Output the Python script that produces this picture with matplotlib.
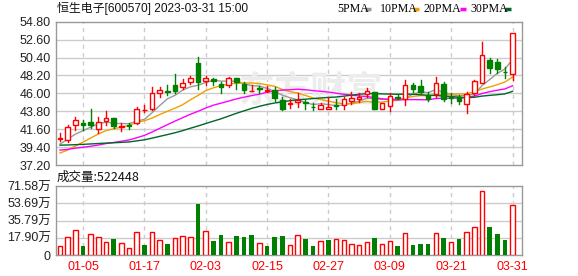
import numpy as np
import pandas as pd
import matplotlib
matplotlib.use("Agg")
import matplotlib.pyplot as plt
from matplotlib.patches import Rectangle
from matplotlib.lines import Line2D

W, H = 578, 276

# trading days 2022-12-30 .. 2023-03-31
dates = ["12-30", "01-03", "01-04", "01-05", "01-06", "01-09", "01-10", "01-11", "01-12", "01-13",
         "01-16", "01-17", "01-18", "01-19", "01-20", "01-30", "01-31", "02-01", "02-02", "02-03",
         "02-06", "02-07", "02-08", "02-09", "02-10", "02-13", "02-14", "02-15", "02-16", "02-17",
         "02-20", "02-21", "02-22", "02-23", "02-24", "02-27", "02-28", "03-01", "03-02", "03-03",
         "03-06", "03-07", "03-08", "03-09", "03-10", "03-13", "03-14", "03-15", "03-16", "03-17",
         "03-20", "03-21", "03-22", "03-23", "03-24", "03-27", "03-28", "03-29", "03-30", "03-31"]

opens = [40.35, 40.27, 42.15, 42.32, 42.48, 41.66, 42.64, 42.93, 41.85, 42.12,
         42.40, 43.90, 44.04, 46.08, 46.33, 47.03, 46.82, 47.39, 49.76, 47.52,
         47.72, 47.15, 47.03, 47.84, 47.11, 46.30, 46.62, 46.33, 46.41, 45.18,
         44.65, 44.97, 44.97, 44.36, 44.12, 44.04, 44.57, 44.57, 45.10, 45.31,
         45.92, 46.17, 44.12, 44.45, 45.59, 45.26, 47.03, 46.90, 45.80, 45.92,
         47.15, 45.67, 45.51, 44.65, 46.08, 47.31, 50.10, 49.85, 48.66, 48.38]
highs = [41.10, 42.07, 43.06, 42.73, 44.04, 43.06, 43.83, 42.95, 42.40, 42.40,
         44.36, 44.57, 46.82, 46.82, 47.03, 48.38, 47.72, 48.13, 50.43, 48.13,
         47.92, 47.43, 47.97, 47.90, 47.43, 47.03, 46.90, 46.90, 46.74, 45.59,
         45.26, 46.08, 45.18, 44.78, 44.85, 45.59, 45.26, 45.59, 46.20, 46.08,
         46.62, 46.17, 44.85, 46.00, 45.92, 47.64, 47.23, 47.64, 46.17, 47.97,
         47.43, 46.00, 45.80, 46.12, 47.64, 52.31, 50.30, 50.18, 49.20, 53.45]
lows = [40.15, 40.06, 41.50, 41.50, 41.71, 41.17, 42.11, 41.71, 41.41, 41.58,
        42.23, 43.74, 43.95, 45.59, 45.80, 46.00, 46.49, 47.15, 46.49, 46.99,
        46.99, 46.00, 46.74, 46.49, 46.00, 46.29, 46.00, 46.20, 45.06, 43.95,
        44.16, 44.28, 44.04, 43.95, 44.12, 44.04, 44.04, 44.04, 44.69, 44.97,
        45.59, 44.12, 44.12, 43.87, 45.26, 44.57, 46.20, 46.08, 45.06, 45.59,
        45.10, 44.85, 44.65, 43.55, 45.80, 47.23, 48.54, 48.46, 47.84, 47.64]
closes = [40.50, 41.83, 42.73, 42.07, 42.15, 42.44, 42.93, 41.95, 42.00, 42.05,
          44.04, 44.00, 46.00, 46.41, 46.17, 46.25, 47.23, 47.92, 47.39, 47.92,
          47.48, 46.82, 47.84, 47.35, 46.41, 46.35, 46.50, 46.45, 45.47, 44.04,
          44.85, 45.18, 44.78, 44.28, 44.53, 44.36, 44.45, 45.26, 45.47, 45.59,
          46.29, 44.12, 44.85, 45.67, 45.39, 47.03, 46.57, 46.20, 45.27, 47.23,
          45.31, 45.43, 45.10, 45.92, 47.52, 50.71, 49.15, 48.95, 48.58, 53.37]
# closes before the window (Nov/Dec 2022), estimated so the MA lines start where the chart shows
pre_close = [41.2, 41.5, 41.0, 40.6, 40.9, 41.3, 40.8, 40.5, 40.4, 40.3,
             40.0, 39.8, 39.9, 39.6, 39.5, 39.3, 39.2, 39.0, 38.9, 38.7,
             38.2, 37.7, 37.3, 37.2, 37.4, 38.9, 39.6, 40.0, 39.9]
volumes = [93000, 183000, 259000, 93000, 218000, 183000, 135000, 166000, 121000, 69000,
           235000, 104000, 235000, 152000, 114000, 173000, 194000, 183000, 529000, 246000,
           145000, 207000, 135000, 197000, 187000, 207000, 121000, 93000, 187000, 197000,
           100000, 204000, 166000, 93000, 142000, 156000, 163000, 152000, 114000, 100000,
           131000, 176000, 111000, 142000, 93000, 225000, 104000, 114000, 114000, 225000,
           176000, 135000, 166000, 235000, 287000, 660000, 290000, 218000, 156000, 522448]

price_ticks = [37.20, 39.40, 41.60, 43.80, 46.00, 48.20, 50.40, 52.60, 54.80]
vol_ticks = [0, 17.90, 35.79, 53.69, 71.58]
vol_labels = ["0", "17.90万", "35.79万", "53.69万", "71.58万"]
tick_idx = [3, 11, 19, 27, 35, 43, 51, 59]

ma_periods = [5, 10, 20, 30]
ma_colors = ["#9a9a9a", "#f0a000", "#ff00ff", "#00662a"]

RED = "#ff0000"
GREEN = "#008000"
GRID = "#cccccc"
FRAME = "#999999"
CJK = ["Liberation Sans", "Noto Sans CJK SC"]

n = len(closes)
x = np.arange(n)
all_close = pd.Series(pre_close + closes)

fig = plt.figure(figsize=(W / 100, H / 100), dpi=100)
fig.patch.set_facecolor("white")
ax_p = fig.add_axes([55.7 / W, 1 - 165 / H, 466.6 / W, 143.3 / H])
ax_v = fig.add_axes([55.7 / W, 1 - 255 / H, 466.6 / W, 69 / H])

for ax in (ax_p, ax_v):
    ax.set_xlim(-0.56, 60.27)
    for s in ax.spines.values():
        s.set_color(FRAME)
        s.set_linewidth(1.0)
    ax.tick_params(length=0, labelsize=9, colors="#222222")
    for t in tick_idx:
        ax.axvline(t, color=GRID, lw=1, ls=(0, (3, 3)), zorder=0)

# ---- price panel
ax_p.set_ylim(price_ticks[0], price_ticks[-1])
ax_p.set_yticks(price_ticks)
ax_p.set_yticklabels([f"{v:.2f}" for v in price_ticks], family="Liberation Sans")
ax_p.set_xticks([])
for v in price_ticks[1:-1]:
    ax_p.axhline(v, color=GRID, lw=1, zorder=0)

# watermark, in pixel coords from bottom-left
ax_p.text(311, H - 91, "东方财富", transform=None, ha="center", va="center", fontsize=26,
          family="Noto Sans CJK SC", fontweight="bold", color="#ececec", zorder=0.5)

for p, col in zip(ma_periods, ma_colors):
    ma = all_close.rolling(p).mean().to_numpy()[-n:]
    ax_p.plot(x, ma, color=col, lw=1, zorder=2)

bw = 0.6
for i in range(n):
    o, h, l, c = opens[i], highs[i], lows[i], closes[i]
    top, bot = max(o, c), min(o, c)
    if c >= o:
        ax_p.plot([i, i], [top, h], color=RED, lw=1, zorder=3)
        ax_p.plot([i, i], [l, bot], color=RED, lw=1, zorder=3)
        ax_p.add_patch(Rectangle((i - bw / 2, bot), bw, max(top - bot, 0.02),
                                 facecolor="white", edgecolor=RED, lw=1, zorder=4))
    else:
        ax_p.plot([i, i], [l, h], color=GREEN, lw=1, zorder=3)
        ax_p.add_patch(Rectangle((i - bw / 2, bot), bw, max(top - bot, 0.02),
                                 facecolor=GREEN, edgecolor=GREEN, lw=1, zorder=4))

# ---- volume panel
vol = np.array(volumes) / 1e4
prev = np.array([pre_close[-1]] + closes[:-1])
up = np.array(closes) >= prev
ax_v.set_ylim(0, vol_ticks[-1])
ax_v.set_yticks(vol_ticks)
ax_v.set_yticklabels(vol_labels, family=CJK)
for v in vol_ticks[1:-1]:
    ax_v.axhline(v, color=GRID, lw=1, zorder=0)
ax_v.bar(x[up], vol[up], width=bw, facecolor="white", edgecolor=RED, lw=1, zorder=3)
ax_v.bar(x[~up], vol[~up], width=bw, color=GREEN, lw=0, zorder=3)
ax_v.set_xticks(tick_idx)
ax_v.set_xticklabels([dates[t] for t in tick_idx], family="Liberation Sans", color=RED)
ax_v.tick_params(axis="x", pad=4)

# ---- header texts
fig.text(57 / W, 1 - 8.5 / H, "恒生电子[600570] 2023-03-31 15:00", ha="left", va="center",
         fontsize=8.6, family=CJK, color="#111111")
fig.text(57 / W, 1 - 177.5 / H, "成交量:" + str(volumes[-1]), ha="left", va="center",
         fontsize=9, family=["Noto Sans CJK SC"], color="#111111")

leg_x = [337, 380, 424, 470]
dash_x = [365, 413, 460, 505]
for k, (p, col) in enumerate(zip(ma_periods, ma_colors)):
    fig.text(leg_x[k] / W, 1 - 8.5 / H, f"{p}PMA", ha="left", va="center",
             fontsize=8.6, family="Liberation Serif", color="#000000")
    fig.add_artist(Line2D([dash_x[k] / W, (dash_x[k] + 6) / W], [1 - 8.5 / H] * 2,
                          color=col, lw=2.5, solid_capstyle="butt"))

fig.savefig("out.png", dpi=100)
